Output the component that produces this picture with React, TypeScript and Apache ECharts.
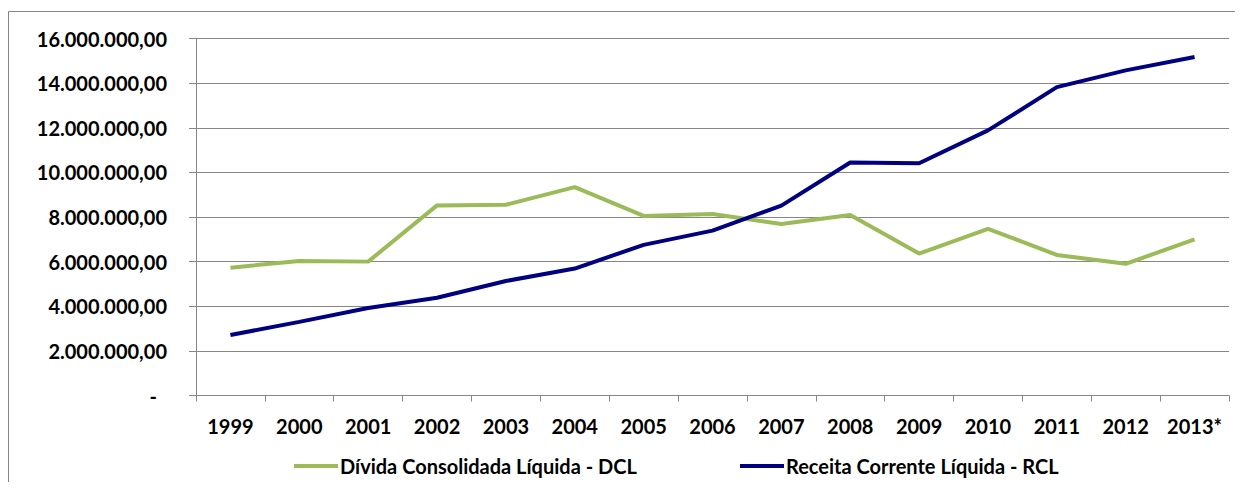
import React, { useEffect, useRef } from "react";
import * as echarts from "echarts";

const categories = ["1999", "2000", "2001", "2002", "2003", "2004", "2005", "2006", "2007", "2008", "2009", "2010", "2011", "2012", "2013*"];
const dclName = "Dívida Consolidada Líquida - DCL";
const rclName = "Receita Corrente Líquida - RCL";
const dclValues = [5730000, 6030000, 6000000, 8520000, 8550000, 9340000, 8050000, 8130000, 7690000, 8090000, 6360000, 7470000, 6300000, 5900000, 7000000];
const rclValues = [2710000, 3300000, 3920000, 4380000, 5130000, 5690000, 6750000, 7390000, 8510000, 10440000, 10410000, 11880000, 13820000, 14570000, 15170000];

const FONT = "Lato";
const GRAY = "#868686";

function fmt(v: number): string {
  if (v === 0) return "{d|-}";
  const s = Math.round(v).toString().replace(/\B(?=(\d{3})+(?!\d))/g, ".");
  return s + ",00";
}

export default function App() {
  const ref = useRef<HTMLDivElement>(null);
  useEffect(() => {
    if (!ref.current) return;
    const chart = echarts.init(ref.current, undefined, { renderer: "svg" });
    const text = { fontFamily: FONT, fontWeight: "bold" as const, fontSize: 20, color: "#000" };
    const legendBase = {
      top: 443,
      itemWidth: 44,
      itemHeight: 4,
      icon: "rect",
      textStyle: { ...text, padding: [0, 0, 0, -3] },
    };
    chart.setOption({
      animation: false,
      grid: { left: 188, right: 14, top: 30.5, bottom: 86.5, containLabel: false },
      graphic: [
        {
          type: "polyline",
          shape: { points: [[0.5, 480], [0.5, 3.5], [1240, 3.5]] },
          style: { stroke: GRAY, lineWidth: 1, fill: "none" },
          silent: true,
        },
      ],
      legend: [
        { ...legendBase, data: [dclName], left: 281 },
        { ...legendBase, data: [rclName], left: 727 },
      ],
      xAxis: {
        type: "category",
        data: categories,
        boundaryGap: true,
        axisLine: { show: true, lineStyle: { color: GRAY, width: 1 } },
        axisTick: { show: true, length: 6, lineStyle: { color: GRAY } },
        axisLabel: { ...text, interval: 0, margin: 20 },
        splitLine: { show: false },
      },
      yAxis: {
        type: "value",
        min: 0,
        max: 16000000,
        interval: 2000000,
        axisLine: { show: true, lineStyle: { color: GRAY, width: 1 } },
        axisTick: { show: true, length: 7, lineStyle: { color: GRAY } },
        axisLabel: {
          ...text,
          margin: 29,
          formatter: (v: number) => fmt(v),
          rich: { d: { ...text, padding: [0, 10, 0, 0] } },
        },
        splitLine: { show: true, lineStyle: { color: GRAY, width: 1 } },
      },
      series: [
        {
          name: dclName,
          type: "line",
          data: dclValues,
          symbol: "none",
          lineStyle: { color: "#9BBB59", width: 4 },
          itemStyle: { color: "#9BBB59" },
        },
        {
          name: rclName,
          type: "line",
          data: rclValues,
          symbol: "none",
          lineStyle: { color: "#000080", width: 4 },
          itemStyle: { color: "#000080" },
        },
      ],
    });
    return () => chart.dispose();
  }, []);
  return <div ref={ref} style={{ width: 1235, height: 474 }} />;
}
